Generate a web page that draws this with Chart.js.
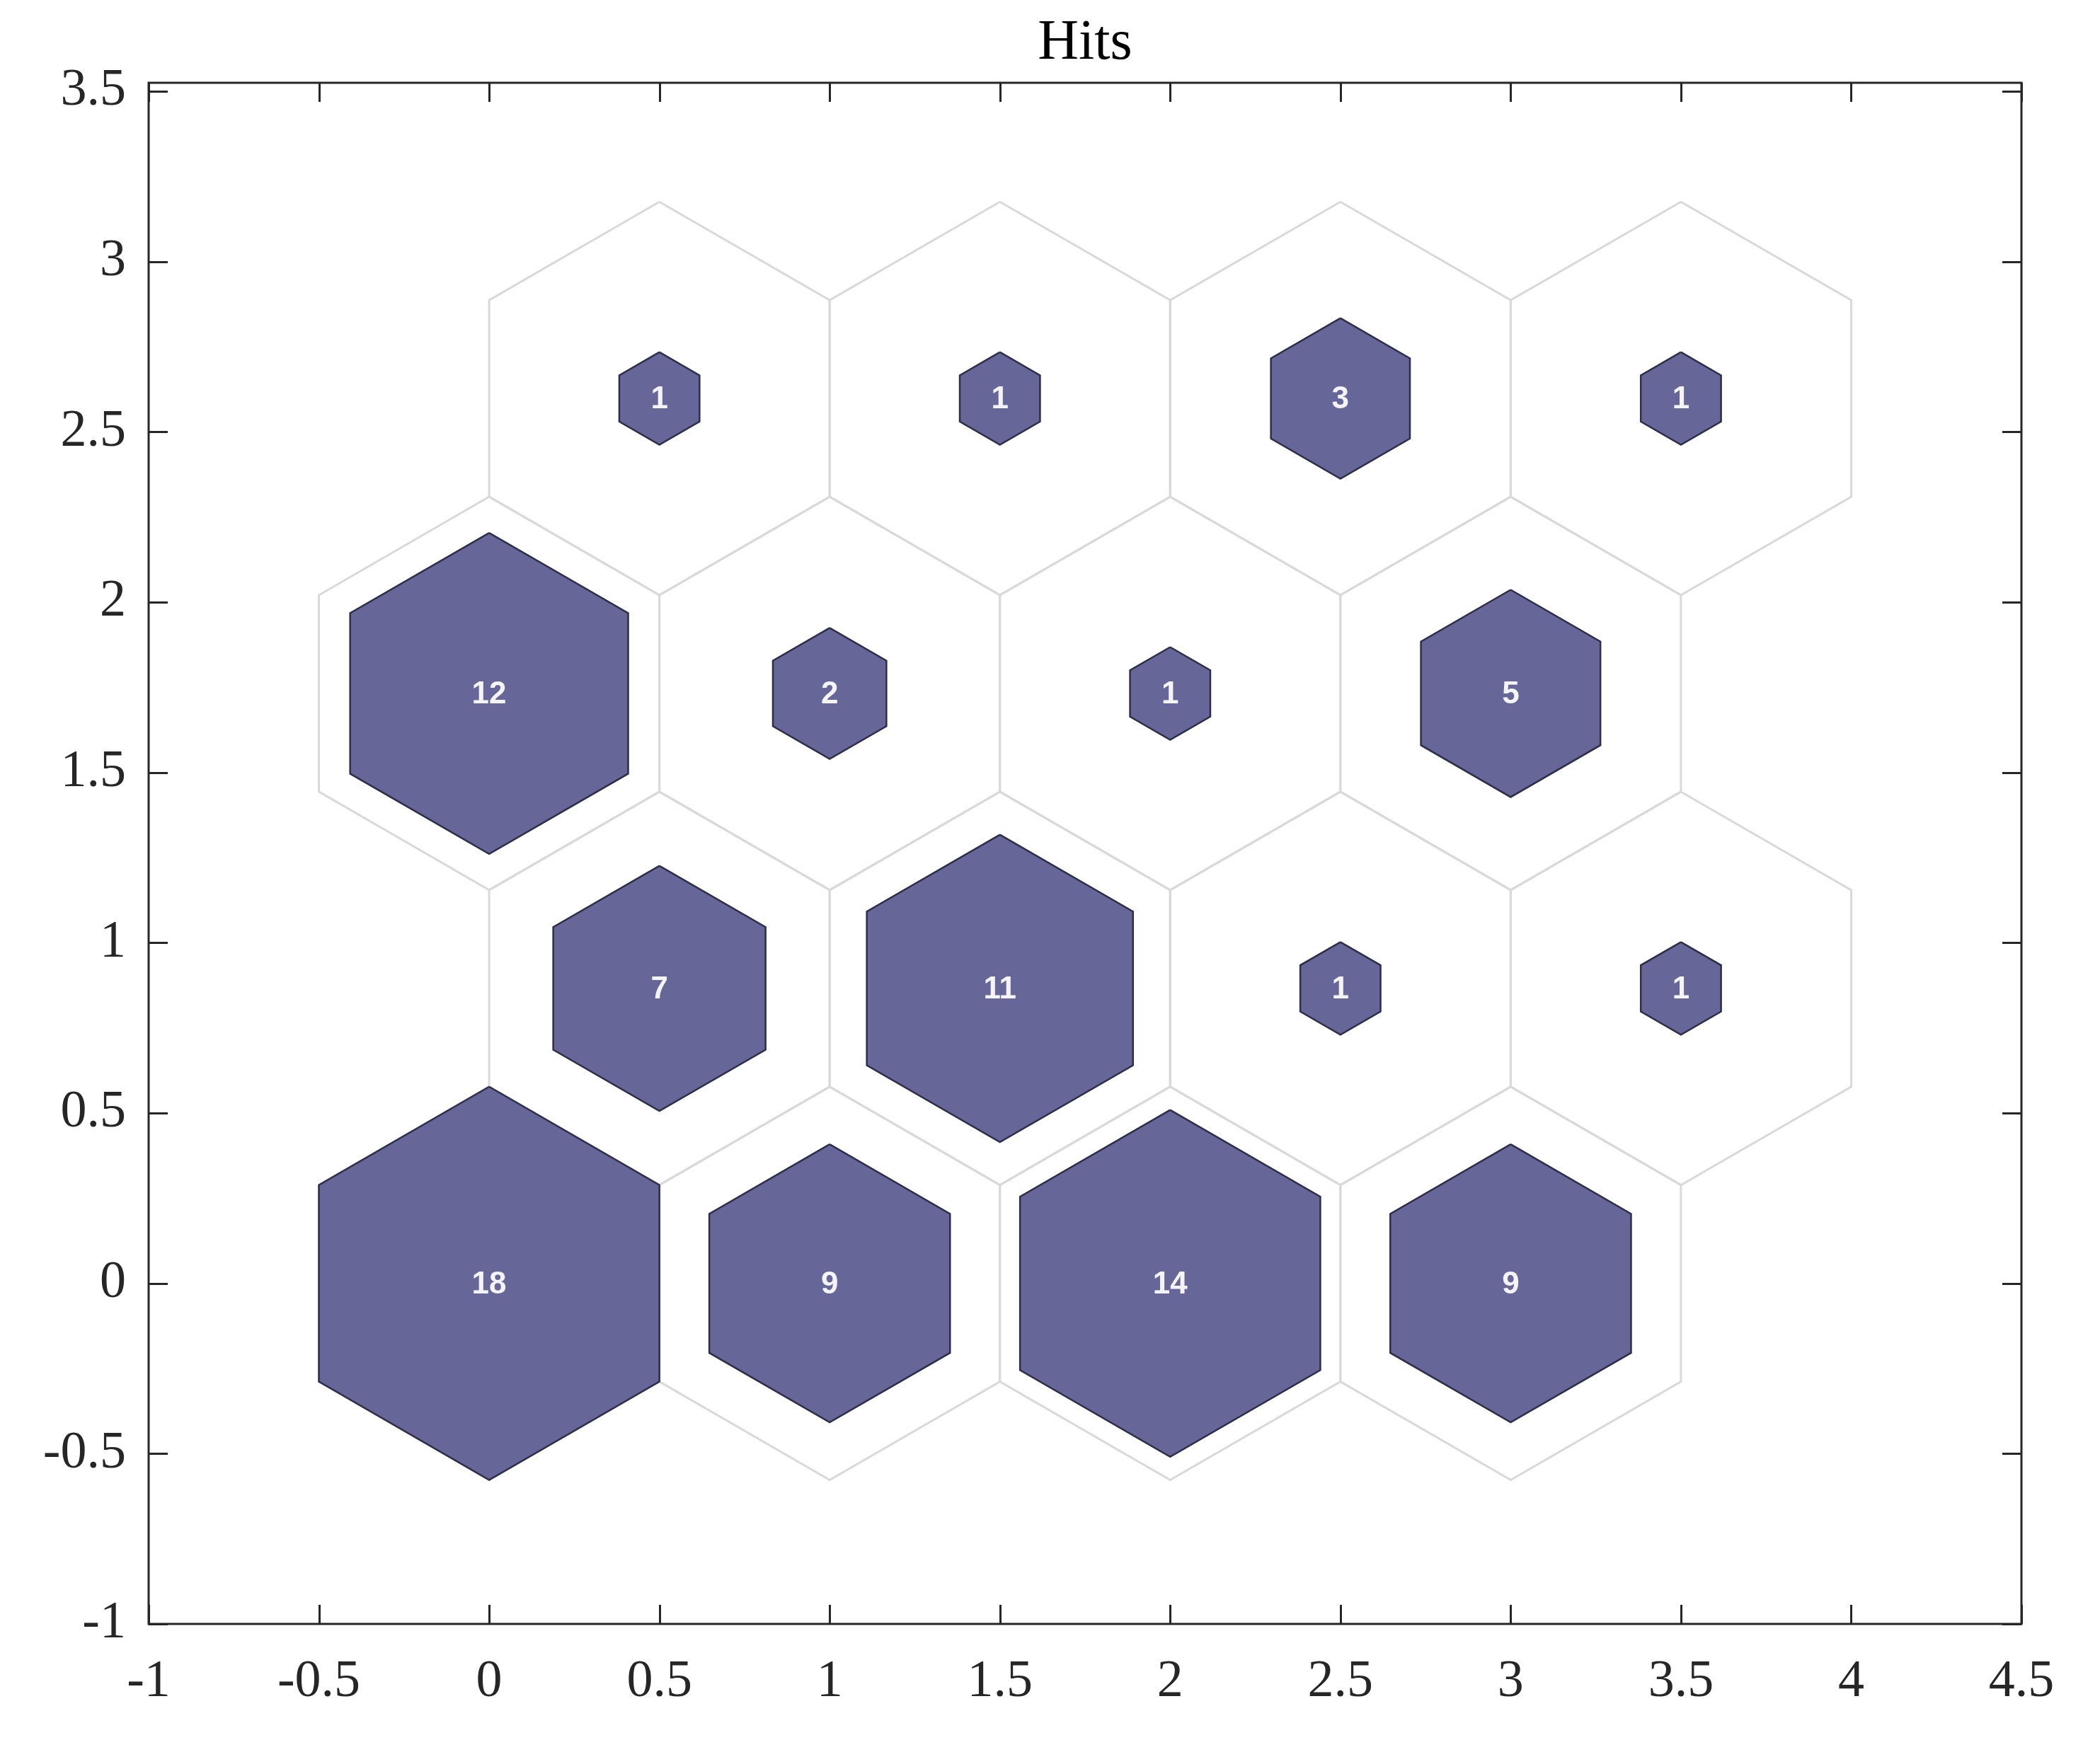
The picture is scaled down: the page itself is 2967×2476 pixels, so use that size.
<!DOCTYPE html>
<html>
<head>
<meta charset="utf-8">
<script src="https://cdn.jsdelivr.net/npm/chart.js@4.4.1/dist/chart.umd.min.js"></script>
<style>
  html, body { margin: 0; padding: 0; background: #ffffff; }
  #c { display: block; }
</style>
</head>
<body>
<canvas id="c" width="2967" height="2476"></canvas>
<script>
// ---- data ----
const chartTitle = 'Hits';
const neuronX = [0, 1, 2, 3, 0.5, 1.5, 2.5, 3.5, 0, 1, 2, 3, 0.5, 1.5, 2.5, 3.5];
const neuronY = [0, 0, 0, 0, 0.8660, 0.8660, 0.8660, 0.8660, 1.7321, 1.7321, 1.7321, 1.7321, 2.5981, 2.5981, 2.5981, 2.5981];
const hits    = [18, 9, 14, 9, 7, 11, 1, 1, 12, 2, 1, 5, 1, 1, 3, 1];
const xTicks = [-1, -0.5, 0, 0.5, 1, 1.5, 2, 2.5, 3, 3.5, 4, 4.5];
const yTicks = [-1, -0.5, 0, 0.5, 1, 1.5, 2, 2.5, 3, 3.5];
const xTickLabels = ['-1', '-0.5', '0', '0.5', '1', '1.5', '2', '2.5', '3', '3.5', '4', '4.5'];
const yTickLabels = ['-1', '-0.5', '0', '0.5', '1', '1.5', '2', '2.5', '3', '3.5'];

// ---- geometry helpers ----
const R = 1 / Math.sqrt(3);
function hexPoints(cx, cy, r) {
  const pts = [];
  for (let k = 0; k <= 6; k++) {
    const a = Math.PI / 2 + k * Math.PI / 3;
    pts.push({ x: cx + r * Math.cos(a), y: cy + r * Math.sin(a) });
  }
  return pts;
}
const maxHits = Math.max(...hits);

const datasets = [];
neuronX.forEach((cx, i) => {
  datasets.push({
    data: hexPoints(cx, neuronY[i], R),
    showLine: true,
    borderColor: '#d9d9d9',
    borderWidth: 3,
    pointRadius: 0,
    fill: false,
    tension: 0,
    order: 2
  });
});
neuronX.forEach((cx, i) => {
  if (hits[i] <= 0) return;
  datasets.push({
    data: hexPoints(cx, neuronY[i], R * Math.sqrt(hits[i] / maxHits)),
    showLine: true,
    borderColor: '#2e2e4a',
    borderWidth: 2.5,
    backgroundColor: '#666699',
    pointRadius: 0,
    fill: 'shape',
    tension: 0,
    order: 1
  });
});

const serif = '"Liberation Serif", "Times New Roman", serif';

const frame = {
  id: 'frame',
  afterDraw(chart) {
    const { ctx, chartArea: a, scales: { x, y } } = chart;
    ctx.save();
    ctx.strokeStyle = '#262626';
    ctx.lineWidth = 3;
    ctx.beginPath();
    ctx.rect(a.left, a.top, a.right - a.left, a.bottom - a.top);
    ctx.stroke();
    const tl = 27;
    ctx.beginPath();
    xTicks.forEach(v => {
      const px = Math.round(x.getPixelForValue(v)) + 0.5;
      ctx.moveTo(px, a.bottom); ctx.lineTo(px, a.bottom - tl);
      ctx.moveTo(px, a.top); ctx.lineTo(px, a.top + tl);
    });
    yTicks.forEach(v => {
      const py = Math.round(y.getPixelForValue(v)) + 0.5;
      ctx.moveTo(a.left, py); ctx.lineTo(a.left + tl, py);
      ctx.moveTo(a.right, py); ctx.lineTo(a.right - tl, py);
    });
    ctx.stroke();
    // title, centred over the plot box
    ctx.fillStyle = '#000000';
    ctx.font = '80px ' + serif;
    ctx.textAlign = 'center';
    ctx.textBaseline = 'alphabetic';
    ctx.fillText(chartTitle, (a.left + a.right) / 2, 83);
    ctx.restore();
  }
};

const hitLabels = {
  id: 'hitLabels',
  afterDatasetsDraw(chart) {
    const { ctx, scales: { x, y } } = chart;
    ctx.save();
    ctx.fillStyle = '#f4f4f8';
    ctx.font = 'bold 44px "Liberation Sans", Arial, sans-serif';
    ctx.textAlign = 'center';
    ctx.textBaseline = 'middle';
    neuronX.forEach((cx, i) => {
      if (hits[i] <= 0) return;
      ctx.fillText(String(hits[i]), x.getPixelForValue(cx), y.getPixelForValue(neuronY[i]) + 2);
    });
    ctx.restore();
  }
};

new Chart(document.getElementById('c'), {
  type: 'scatter',
  data: { datasets },
  options: {
    responsive: false,
    animation: false,
    layout: { padding: { left: 0, right: 111, top: 117, bottom: 0 } },
    plugins: {
      legend: { display: false },
      tooltip: { enabled: false },
      title: { display: false }
    },
    scales: {
      x: {
        type: 'linear',
        min: -1, max: 4.5,
        grid: { display: false, drawTicks: false },
        border: { display: false },
        afterBuildTicks: s => { s.ticks = xTicks.map(v => ({ value: v })); },
        afterFit: s => { s.height = 181; },
        ticks: {
          autoSkip: false,
          maxRotation: 0,
          padding: 38,
          color: '#262626',
          font: { family: serif, size: 74 },
          callback: (v) => xTickLabels[xTicks.indexOf(v)]
        }
      },
      y: {
        type: 'linear',
        min: -1, max: 3.525,
        grid: { display: false, drawTicks: false },
        border: { display: false },
        afterBuildTicks: s => { s.ticks = yTicks.map(v => ({ value: v })); },
        afterFit: s => { s.width = 210; },
        ticks: {
          autoSkip: false,
          padding: 32,
          color: '#262626',
          font: { family: serif, size: 74 },
          callback: (v) => yTickLabels[yTicks.indexOf(v)]
        }
      }
    }
  },
  plugins: [frame, hitLabels]
});
</script>
</body>
</html>
